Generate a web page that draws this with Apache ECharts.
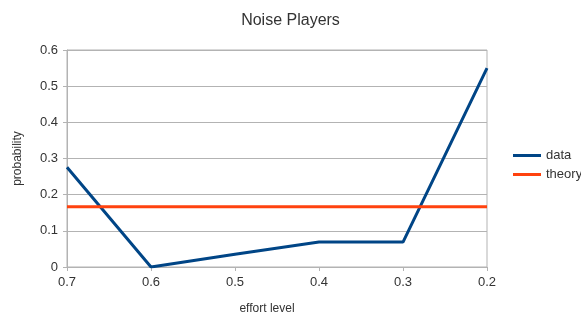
<!DOCTYPE html>
<html>
<head>
<meta charset="utf-8">
<script src="https://cdn.jsdelivr.net/npm/echarts@6/dist/echarts.min.js"></script>
<style>
    html, body { margin: 0; padding: 0; background: #fff; }
    #chart { width: 581px; height: 316px; }
</style>
</head>
<body>
<div id="chart"></div>
<script>
// Data
var effortLevels = ['0.7', '0.6', '0.5', '0.4', '0.3', '0.2'];
var dataValues = [0.276, 0, 0.035, 0.069, 0.069, 0.55];
var theoryValues = [0.1667, 0.1667, 0.1667, 0.1667, 0.1667, 0.1667];

var chart = echarts.init(document.getElementById('chart'));

chart.setOption({

    // Global text styles
    textStyle: {
        fontFamily: '"Liberation Sans", Arial, sans-serif',
        fontSize: 13,
        color: '#333'
    },

    animation: false,

    // Title
    title: {
        text: 'Noise Players',
        left: 'center',
        top: 8,
        textStyle: {
            fontFamily: '"Liberation Sans", Arial, sans-serif',
            fontSize: 16,
            fontWeight: 'normal',
            color: '#333'
        }
    },

    // Setup grid
    grid: {
        left: 67,
        right: 94,
        top: 50,
        bottom: 49,
        outerBoundsMode: 'none',
        containLabel: false,
        show: true,
        borderColor: '#b3b3b3',
        borderWidth: 1
    },

    // Legend
    legend: {
        orient: 'vertical',
        left: 513,
        top: 149,
        padding: 0,
        itemWidth: 28,
        itemHeight: 3,
        itemGap: 6,
        icon: 'rect',
        data: ['data', 'theory'],
        textStyle: {
            fontSize: 13,
            color: '#333'
        }
    },

    // Horizontal axis
    xAxis: {
        type: 'category',
        data: effortLevels,
        boundaryGap: false,
        name: 'effort level',
        nameLocation: 'middle',
        nameGap: 36,
        nameTextStyle: {
            fontSize: 12,
            color: '#333',
            padding: [0, 20, 0, 0]
        },
        axisLabel: {
            color: '#333',
            fontSize: 13,
            margin: 9
        },
        axisLine: {
            lineStyle: { color: '#b3b3b3' }
        },
        axisTick: {
            alignWithLabel: true,
            length: 4,
            lineStyle: { color: '#b3b3b3' }
        },
        splitLine: { show: false }
    },

    // Vertical axis
    yAxis: {
        type: 'value',
        min: 0,
        max: 0.6,
        interval: 0.1,
        name: 'probability',
        nameLocation: 'middle',
        nameGap: 43,
        nameTextStyle: {
            fontSize: 12,
            color: '#333'
        },
        axisLabel: {
            color: '#333',
            fontSize: 13,
            margin: 9,
            formatter: function (v) {
                return String(Math.round(v * 10) / 10);
            }
        },
        axisLine: {
            show: true,
            lineStyle: { color: '#b3b3b3' }
        },
        axisTick: {
            show: true,
            length: 4,
            lineStyle: { color: '#b3b3b3' }
        },
        splitLine: {
            lineStyle: { color: '#b3b3b3' }
        }
    },

    // Series
    series: [
        {
            name: 'data',
            type: 'line',
            data: dataValues,
            symbol: 'none',
            color: '#004586',
            lineStyle: { width: 3, color: '#004586' }
        },
        {
            name: 'theory',
            type: 'line',
            data: theoryValues,
            symbol: 'none',
            color: '#ff420e',
            lineStyle: { width: 3, color: '#ff420e' }
        }
    ]
});
</script>
</body>
</html>
